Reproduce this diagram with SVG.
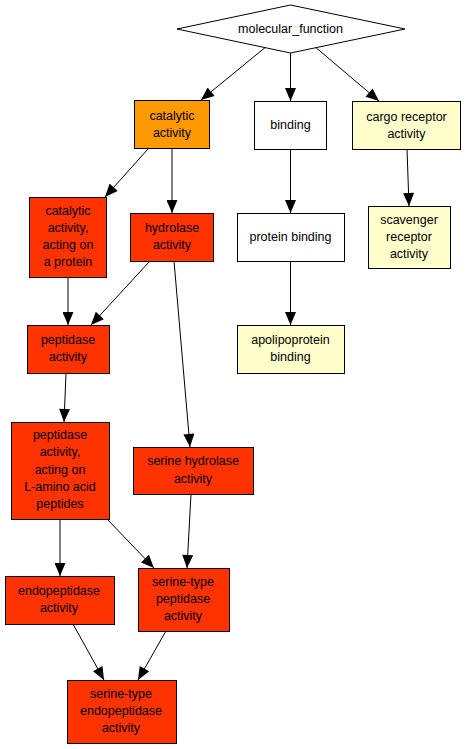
<svg xmlns="http://www.w3.org/2000/svg" width="467" height="749" viewBox="0 0 467 749">
<style>
.n{stroke:#000;stroke-width:1}
.r{fill:#FF3300}
.o{fill:#FF9900}
.y{fill:#FFFFCC}
.w{fill:#FFFFFF}
text{font-family:"Liberation Sans",Arial,sans-serif;font-size:12.5px;text-anchor:middle;fill:#000}
.e line{stroke:#000;stroke-width:1;marker-end:url(#a)}
</style>
<defs>
<marker id="a" markerUnits="userSpaceOnUse" markerWidth="14" markerHeight="11" refX="13" refY="5.5" orient="auto" viewBox="0 0 13 11">
<path d="M0,0 L13,5.5 L0,11 z" fill="#000"/>
</marker>
</defs>
<rect width="467" height="749" fill="#fff"/>
<g class="e" id="edges">
<line x1="267" y1="46" x2="201" y2="100"/>
<line x1="290.5" y1="53" x2="290.5" y2="101"/>
<line x1="314" y1="46" x2="379" y2="101"/>
<line x1="148" y1="149" x2="105" y2="197"/>
<line x1="172" y1="149" x2="172" y2="213"/>
<line x1="290.5" y1="149" x2="290.5" y2="213"/>
<line x1="407" y1="149" x2="409" y2="206"/>
<line x1="290.5" y1="261" x2="290.5" y2="325"/>
<line x1="68" y1="277" x2="68" y2="325"/>
<line x1="149" y1="262" x2="91" y2="325"/>
<line x1="174" y1="261" x2="190" y2="447"/>
<line x1="66" y1="373" x2="64" y2="422"/>
<line x1="60" y1="519" x2="60" y2="576"/>
<line x1="107" y1="519" x2="154" y2="568"/>
<line x1="191" y1="494" x2="187" y2="568"/>
<line x1="73" y1="624" x2="104" y2="680"/>
<line x1="166" y1="631" x2="138" y2="680"/>
</g>
<g id="molecular_function"><polygon class="n w" points="290.5,5 405,29 290.5,53 177,29"/><text x="290.5" y="33">molecular_function</text></g>
<g id="catalytic_activity"><rect class="n o" x="134.5" y="100.5" width="75" height="48"/><text x="172" y="120">catalytic</text><text x="172" y="137">activity</text></g>
<g id="binding"><rect class="n w" x="254.5" y="101.5" width="72" height="48"/><text x="290.5" y="129">binding</text></g>
<g id="cargo_receptor_activity"><rect class="n y" x="352.5" y="101.5" width="108" height="48"/><text x="406.5" y="121">cargo receptor</text><text x="406.5" y="138">activity</text></g>
<g id="catalytic_activity_acting_on_a_protein"><rect class="n r" x="29.5" y="197.5" width="77" height="80"/><text x="68" y="215">catalytic</text><text x="68" y="232">activity,</text><text x="68" y="249">acting on</text><text x="68" y="266">a protein</text></g>
<g id="hydrolase_activity"><rect class="n r" x="130.5" y="213.5" width="83" height="48"/><text x="172" y="232">hydrolase</text><text x="172" y="249">activity</text></g>
<g id="protein_binding"><rect class="n w" x="237.5" y="213.5" width="107" height="48"/><text x="290.5" y="241">protein binding</text></g>
<g id="scavenger_receptor_activity"><rect class="n y" x="368.5" y="206.5" width="82" height="62"/><text x="409" y="224">scavenger</text><text x="409" y="241">receptor</text><text x="409" y="258">activity</text></g>
<g id="peptidase_activity"><rect class="n r" x="27.5" y="325.5" width="82" height="48"/><text x="68" y="344">peptidase</text><text x="68" y="361">activity</text></g>
<g id="apolipoprotein_binding"><rect class="n y" x="237.5" y="325.5" width="107" height="48"/><text x="290.5" y="344">apolipoprotein</text><text x="290.5" y="361">binding</text></g>
<g id="peptidase_activity_acting_on_L-amino_acid_peptides"><rect class="n r" x="11.5" y="422.5" width="98" height="97"/><text x="60" y="439">peptidase</text><text x="60" y="456">activity,</text><text x="60" y="474">acting on</text><text x="60" y="491">L-amino acid</text><text x="60" y="508">peptides</text></g>
<g id="serine_hydrolase_activity"><rect class="n r" x="133.5" y="447.5" width="120" height="47"/><text x="193" y="465">serine hydrolase</text><text x="193" y="483">activity</text></g>
<g id="endopeptidase_activity"><rect class="n r" x="5.5" y="576.5" width="109" height="48"/><text x="59" y="595">endopeptidase</text><text x="59" y="612">activity</text></g>
<g id="serine-type_peptidase_activity"><rect class="n r" x="138.5" y="568.5" width="91" height="63"/><text x="183" y="586">serine-type</text><text x="183" y="603">peptidase</text><text x="183" y="620">activity</text></g>
<g id="serine-type_endopeptidase_activity"><rect class="n r" x="67.5" y="680.5" width="109" height="63"/><text x="121" y="698">serine-type</text><text x="121" y="715">endopeptidase</text><text x="121" y="732">activity</text></g>
</svg>
